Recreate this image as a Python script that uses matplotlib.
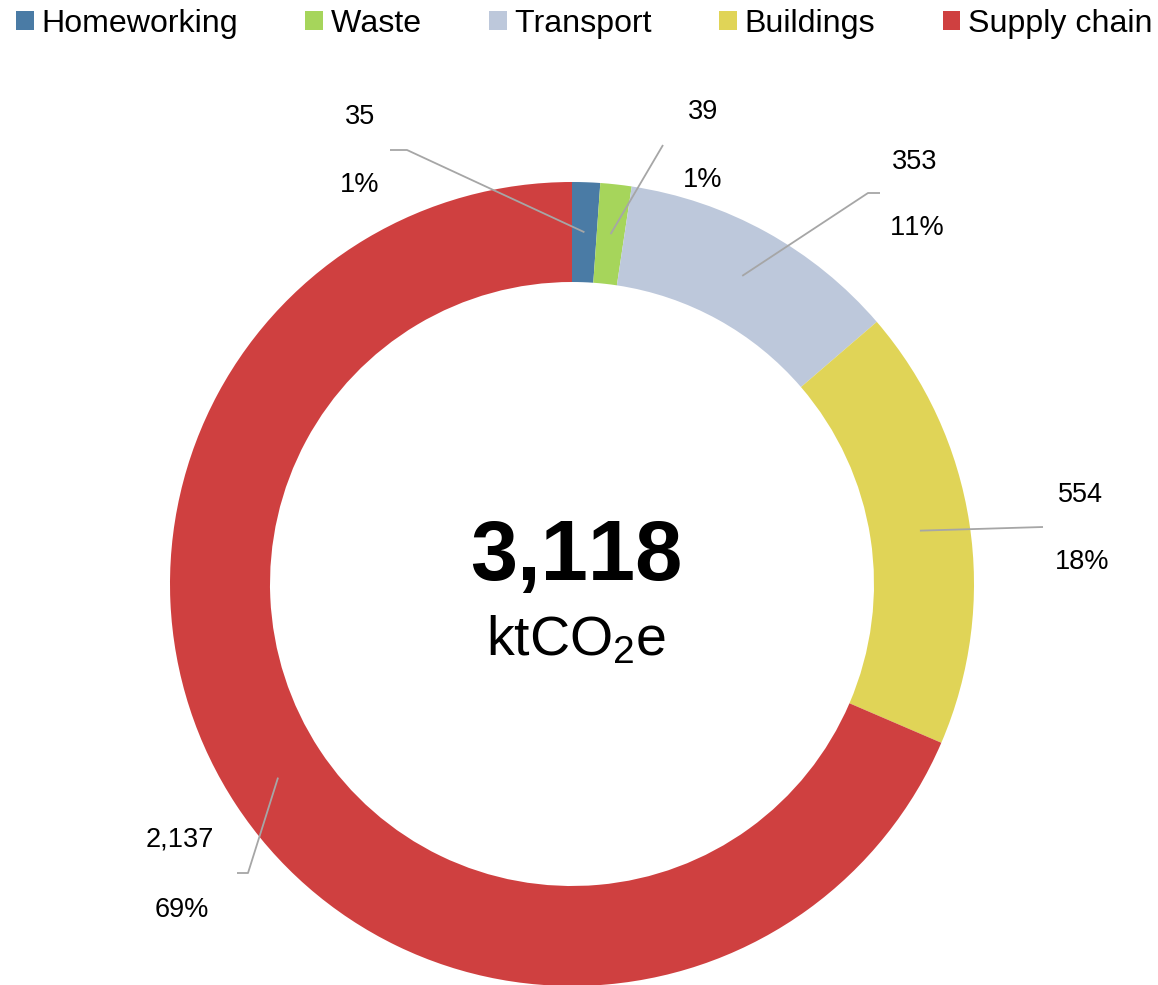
import matplotlib
matplotlib.use("Agg")
import numpy as np
import matplotlib.pyplot as plt
from matplotlib.patches import Patch

plt.rcParams['font.family'] = ['Liberation Sans', 'DejaVu Sans']
plt.rcParams['mathtext.fontset'] = 'custom'
plt.rcParams['mathtext.rm'] = 'Liberation Sans'
plt.rcParams['mathtext.default'] = 'regular'
plt.rcParams['text.kerning_factor'] = 6

categories = ["Homeworking", "Waste", "Transport", "Buildings", "Supply chain"]
values = [35, 39, 353, 554, 2137]
colors = ["#4A7BA5", "#A6D55B", "#BDC8DB", "#E0D457", "#CF4040"]

W, H = 1158, 985
# label layout in image pixels: (value label centre, percent label centre, leader elbow points)
label_pos = [
    ((360, 117), (360, 185), [(390, 150), (407, 150)]),
    ((703, 112), (703, 180), [(663, 145)]),
    ((915, 162), (917, 228), [(880, 193), (868, 193)]),
    ((1080, 495), (1082, 562), [(1043, 527)]),
    ((180, 840), (182, 910), [(237, 873), (248, 873)]),
]

fig = plt.figure(figsize=(W / 100, H / 100), dpi=100)
ax = fig.add_axes([0, 0, 1, 1])

cx, cy = 572, H - 584
R, ring = 402, 100


def img(p):
    return (p[0], H - p[1])


wedges, _ = ax.pie(values, colors=colors, startangle=90, counterclock=False,
                   radius=R, center=(cx, cy),
                   wedgeprops=dict(width=ring, edgecolor='none'))
ax.set_xlim(0, W)
ax.set_ylim(0, H)
ax.set_aspect('equal')
ax.axis('off')

total = sum(values)
for w, v, (p1, p2, elbow) in zip(wedges, values, label_pos):
    mid = np.deg2rad((w.theta1 + w.theta2) / 2)
    rm = R - ring / 2
    anchor = (cx + rm * np.cos(mid), cy + rm * np.sin(mid))
    pts = [img(e) for e in elbow] + [anchor]
    ax.plot([p[0] for p in pts], [p[1] for p in pts], color="#A6A6A6", lw=1.3,
            solid_capstyle='butt')
    ax.text(*img(p1), f"{v:,}", fontsize=19.5, ha='center', va='center')
    ax.text(*img(p2), f"{round(v / total * 100)}%", fontsize=19.5, ha='center', va='center')

ax.text(*img((576, 558)), f"{total:,}", fontsize=61, fontweight='bold', ha='center', va='center')
ax.text(*img((576, 641)), r"ktCO$_2$e", fontsize=40, ha='center', va='center')

handles = [Patch(facecolor=c, edgecolor='none') for c in colors]
fig.legend(handles, categories, loc='upper left', bbox_to_anchor=(16 / W, 1 - 9 / H),
           ncol=5, frameon=False, fontsize=23.1, handlelength=0.55, handleheight=0.55,
           handletextpad=0.24, columnspacing=2.1, borderpad=0, borderaxespad=0)

fig.savefig("out.png", dpi=100)
